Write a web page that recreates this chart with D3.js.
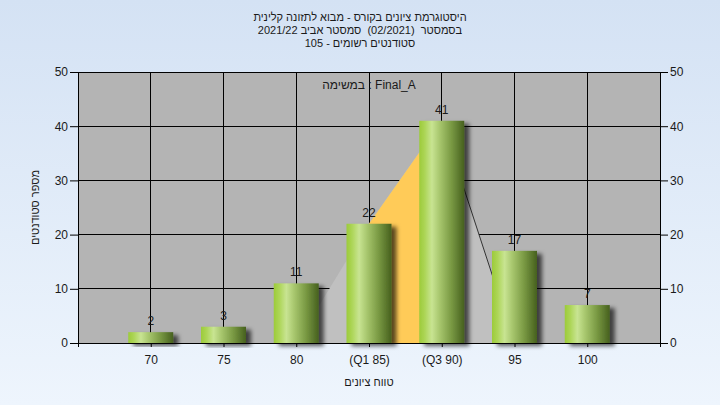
<!DOCTYPE html>
<html>
<head>
<meta charset="utf-8">
<script src="https://cdn.jsdelivr.net/npm/d3@7"></script>
<style>
  html, body { margin: 0; padding: 0; }
  body { width: 720px; height: 405px; overflow: hidden; }
  text { white-space: pre; }
</style>
</head>
<body>
<svg id="chart" width="720" height="405"></svg>
<script>
// ---- data ----
const categories = ["70", "75", "80", "(Q1 85)", "(Q3 90)", "95", "100"];
const counts = [2, 3, 11, 22, 41, 17, 7];
const quartileCats = ["80", "(Q1 85)", "(Q3 90)", "95"];
const quartileVals = [0, 22, 41, 0];
const yTicks = [0, 10, 20, 30, 40, 50];
const titleLines = [
  "היסטוגרמת ציונים בקורס - מבוא לתזונה קלינית",
  "בסמסטר  (02/2021)  סמסטר אביב 2021/22",
  "סטודנטים רשומים - 105"
];
const taskLabel = "במשימה : Final_A";
const xTitle = "טווח ציונים";
const yTitle = "מספר סטודנטים";

// ---- layout ----
const W = 720, H = 405;
const L = 78, R = 660, T = 72, B = 343;
const FONT = "'Liberation Sans', Arial, sans-serif";

const svg = d3.select("#chart");
const defs = svg.append("defs");

const bgGrad = defs.append("linearGradient").attr("id", "bg").attr("x1", 0).attr("y1", 0).attr("x2", 0).attr("y2", 1);
bgGrad.append("stop").attr("offset", "0%").attr("stop-color", "#d4e2f4");
bgGrad.append("stop").attr("offset", "100%").attr("stop-color", "#eef5fd");

const barGrad = defs.append("linearGradient").attr("id", "barg").attr("x1", 0).attr("y1", 0).attr("x2", 1).attr("y2", 0);
[[0, "#9ccb3a"], [0.12, "#acd556"], [0.28, "#c8e492"], [0.45, "#a8c76e"], [0.72, "#789842"], [1, "#46601e"]]
  .forEach(([o, c]) => barGrad.append("stop").attr("offset", o).attr("stop-color", c));

const shadow = defs.append("filter").attr("id", "shadow").attr("x", "-20%").attr("y", "-20%").attr("width", "150%").attr("height", "150%");
shadow.append("feDropShadow").attr("dx", 5).attr("dy", 3).attr("stdDeviation", 2)
  .attr("flood-color", "#000").attr("flood-opacity", 0.65);

svg.append("rect").attr("width", W).attr("height", H).attr("fill", "url(#bg)");

const x = d3.scalePoint().domain(categories).range([L, R]).padding(1);
const y = d3.scaleLinear().domain([0, 50]).range([B, T]);

// plot background
svg.append("rect").attr("x", L).attr("y", T).attr("width", R - L).attr("height", B - T).attr("fill", "#b4b4b4");

// gridlines
const grid = svg.append("g").attr("stroke", "#000").attr("stroke-width", 1).attr("shape-rendering", "crispEdges");
grid.selectAll("line.h").data(yTicks.filter(d => d > 0)).join("line").attr("class", "h")
  .attr("x1", L).attr("x2", R).attr("y1", d => y(d)).attr("y2", d => y(d));
grid.selectAll("line.v").data(categories).join("line").attr("class", "v")
  .attr("x1", d => x(d)).attr("x2", d => x(d)).attr("y1", T).attr("y2", B);

// quartile area
const qPts = quartileCats.map((c, i) => [x(c), y(quartileVals[i])]);
const areaGen = d3.area().x(d => d[0]).y0(B).y1(d => d[1]);
svg.append("path").datum(qPts).attr("d", areaGen).attr("fill", "#c0c0c0");
svg.append("path").datum(qPts.slice(1, 3)).attr("d", areaGen).attr("fill", "#ffcb58");
svg.append("path").datum(qPts.slice(2, 4)).attr("d", d3.line()).attr("fill", "none")
  .attr("stroke", "#333").attr("stroke-width", 1);

// bars
const bw = 45;
svg.append("g").selectAll("rect").data(categories).join("rect")
  .attr("x", d => x(d) - bw / 2)
  .attr("y", (d, i) => y(counts[i]))
  .attr("width", bw)
  .attr("height", (d, i) => B - y(counts[i]))
  .attr("fill", "url(#barg)")
  .attr("filter", "url(#shadow)");

// value labels
svg.append("g").selectAll("text").data(categories).join("text")
  .attr("x", d => x(d)).attr("y", (d, i) => y(counts[i]) - 7)
  .attr("text-anchor", "middle").attr("font-family", FONT).attr("font-size", 12).attr("fill", "#1a1a1a")
  .text((d, i) => counts[i]);

// axes
const axStyle = g => {
  g.select(".domain").remove();
  g.selectAll("line").attr("stroke", "#000");
  g.selectAll("text").attr("font-family", FONT).attr("font-size", 12).attr("fill", "#1a1a1a");
};
svg.append("g").attr("transform", `translate(${L},0)`)
  .call(d3.axisLeft(y).tickValues(yTicks).tickSize(8).tickPadding(2)).call(axStyle);
svg.append("g").attr("transform", `translate(${R},0)`)
  .call(d3.axisRight(y).tickValues(yTicks).tickSize(8).tickPadding(2)).call(axStyle);
svg.append("g").attr("transform", `translate(0,${B})`)
  .call(d3.axisBottom(x).tickSize(4).tickPadding(8)).call(axStyle);

// frame
const frame = svg.append("g").attr("stroke", "#000").attr("stroke-width", 1).attr("shape-rendering", "crispEdges");
frame.append("line").attr("x1", L).attr("x2", L).attr("y1", T).attr("y2", B + 4);
frame.append("line").attr("x1", R).attr("x2", R).attr("y1", T).attr("y2", B + 4);
frame.append("line").attr("x1", L).attr("x2", R).attr("y1", B).attr("y2", B);
frame.append("line").attr("x1", L).attr("x2", R).attr("y1", T).attr("y2", T);

// titles (right-to-left)
svg.append("g").selectAll("text").data(titleLines).join("text")
  .attr("x", 360).attr("y", (d, i) => 20.5 + i * 13)
  .attr("text-anchor", "middle").attr("direction", "rtl")
  .attr("font-family", FONT).attr("font-size", 11).attr("fill", "#1a1a1a")
  .text(d => d);

svg.append("text").attr("x", (L + R) / 2).attr("y", 89).attr("text-anchor", "middle")
  .attr("font-family", FONT).attr("font-size", 12).attr("fill", "#1a1a1a").text(taskLabel);

svg.append("text").attr("x", (L + R) / 2).attr("y", 386).attr("text-anchor", "middle").attr("direction", "rtl")
  .attr("font-family", FONT).attr("font-size", 11).attr("fill", "#1a1a1a").text(xTitle);

svg.append("text").attr("transform", `translate(39,${(T + B) / 2}) rotate(-90)`).attr("text-anchor", "middle")
  .attr("font-family", FONT).attr("font-size", 11).attr("fill", "#1a1a1a")
  .attr("direction", "rtl").text(yTitle);
</script>
</body>
</html>
